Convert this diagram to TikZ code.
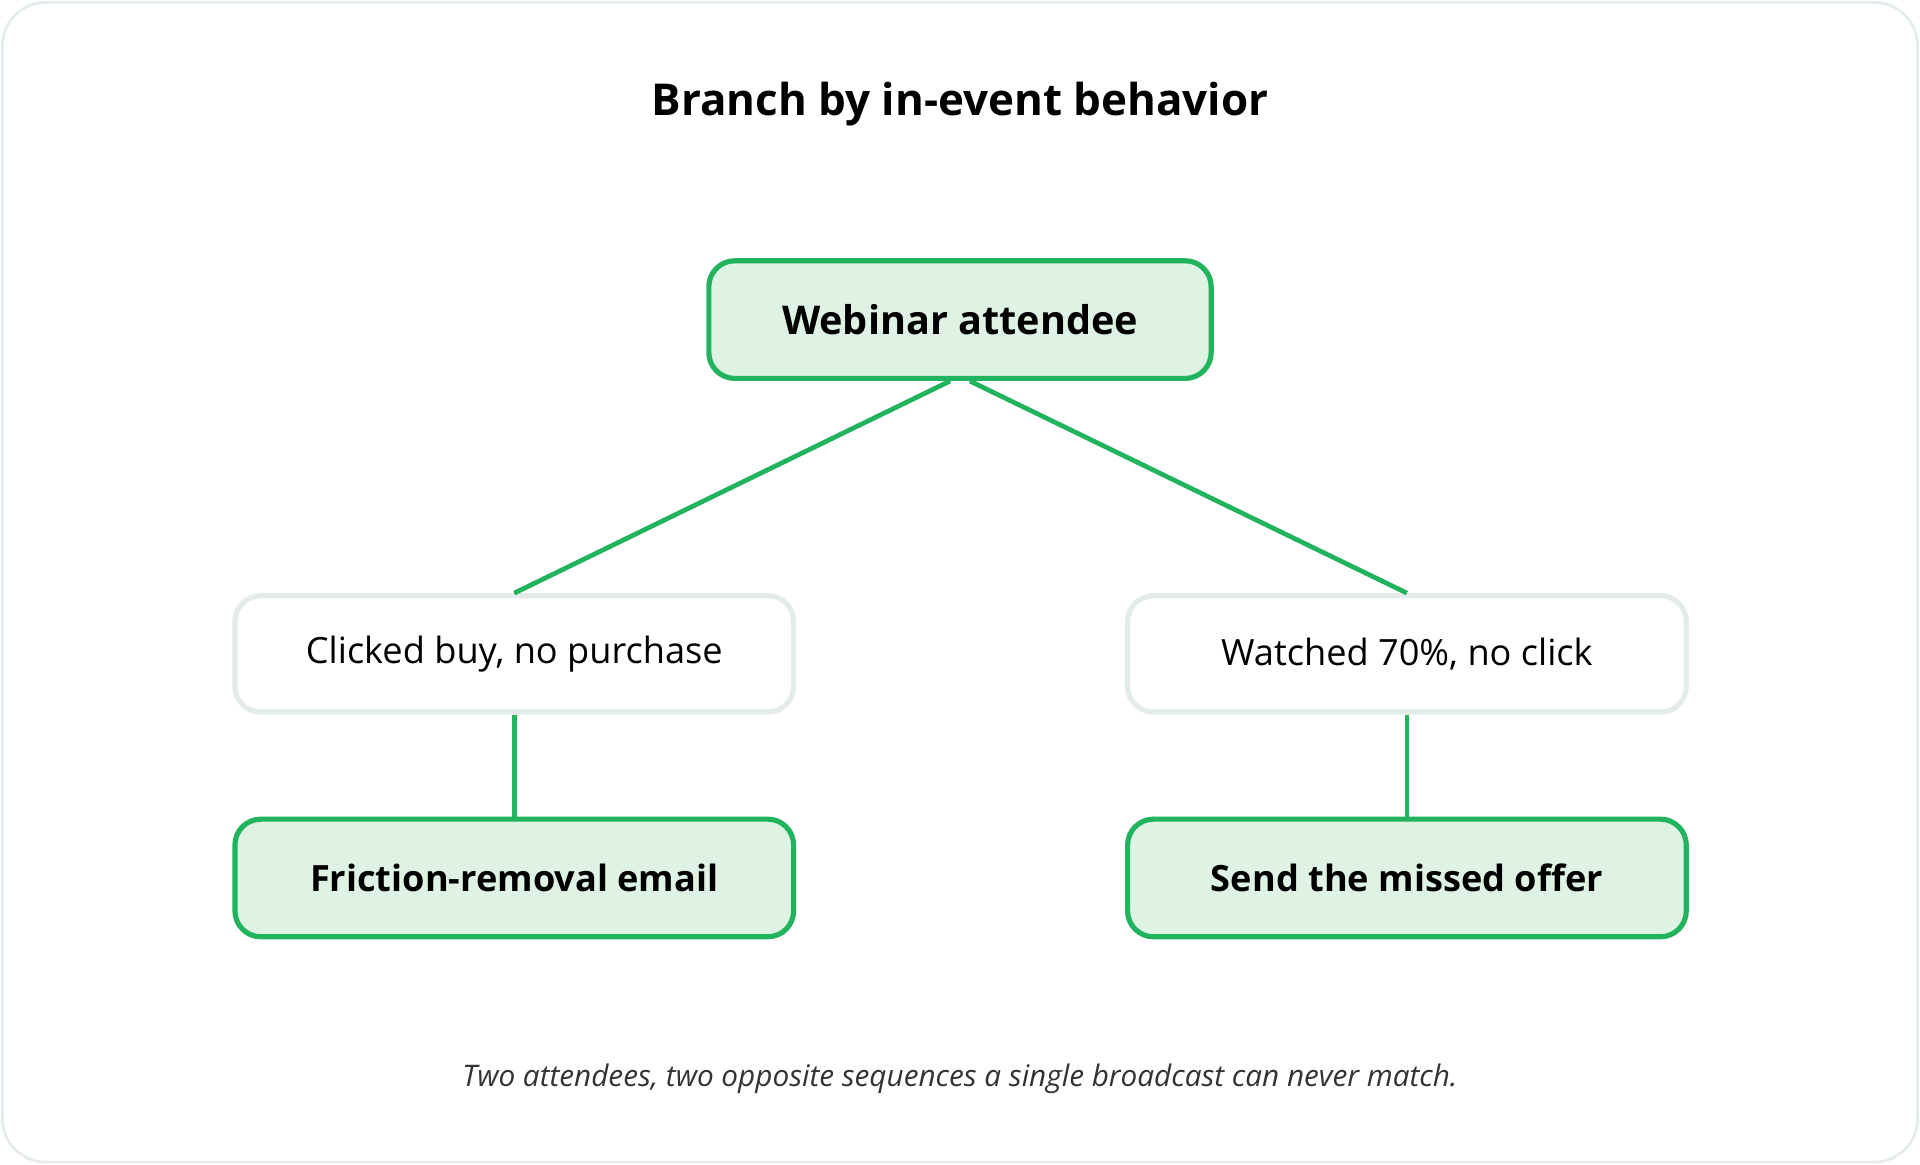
\documentclass[tikz,border=0pt]{standalone}
\usepackage{fontspec}
\setmainfont{Open Sans}
\definecolor{branchgreen}{HTML}{22B35E}
\definecolor{branchfill}{HTML}{DEF3E4}
\definecolor{softgray}{HTML}{E3ECE8}
\tikzset{
	action/.style={draw=branchgreen, line width=1.2pt, fill=branchfill, rounded corners=6pt, minimum width=4.56cm, minimum height=0.96cm, font=\fontsize{8.4}{10}\selectfont\bfseries},
	state/.style={draw=softgray, line width=1.2pt, fill=white, rounded corners=6pt, minimum width=4.56cm, minimum height=0.95cm, font=\fontsize{8.4}{10}\selectfont},
	link/.style={draw=branchgreen, line width=1.1pt}
}
\begin{document}
\begin{tikzpicture}[x=0.01cm,y=-0.01cm]
		\useasboundingbox (0,0) rectangle (1568,951);
		\draw[softgray, line width=0.6pt, rounded corners=10pt] (2,2) rectangle (1566,949);
		%%%
		\node[font=\fontsize{10.2}{12}\selectfont\bfseries] (title) at (784,85) {Branch by in-event behavior};
		\node[action, minimum width=4.1cm, font=\fontsize{9.2}{11}\selectfont\bfseries] (top) at (784,261) {Webinar attendee};
		\node[state] (clicked) at (420,534) {Clicked buy, no purchase};
		\node[state] (watched) at (1149,534) {Watched 70\%, no click};
		\node[action] (friction) at (420,717) {Friction-removal email};
		\node[action] (offer) at (1149,717) {Send the missed offer};
		\node[font=\fontsize{6.9}{8}\selectfont\itshape, text=black!80] (caption) at (784,881) {Two attendees, two opposite sequences a single broadcast can never match.};
		%%%
		\draw[link] ([xshift=-0.08cm]top.south) -- (clicked.north);
		\draw[link] ([xshift=0.08cm]top.south) -- (watched.north);
		\draw[link] (clicked.south) -- (friction.north);
		\draw[link] (watched.south) -- (offer.north);
	\end{tikzpicture}
\end{document}
